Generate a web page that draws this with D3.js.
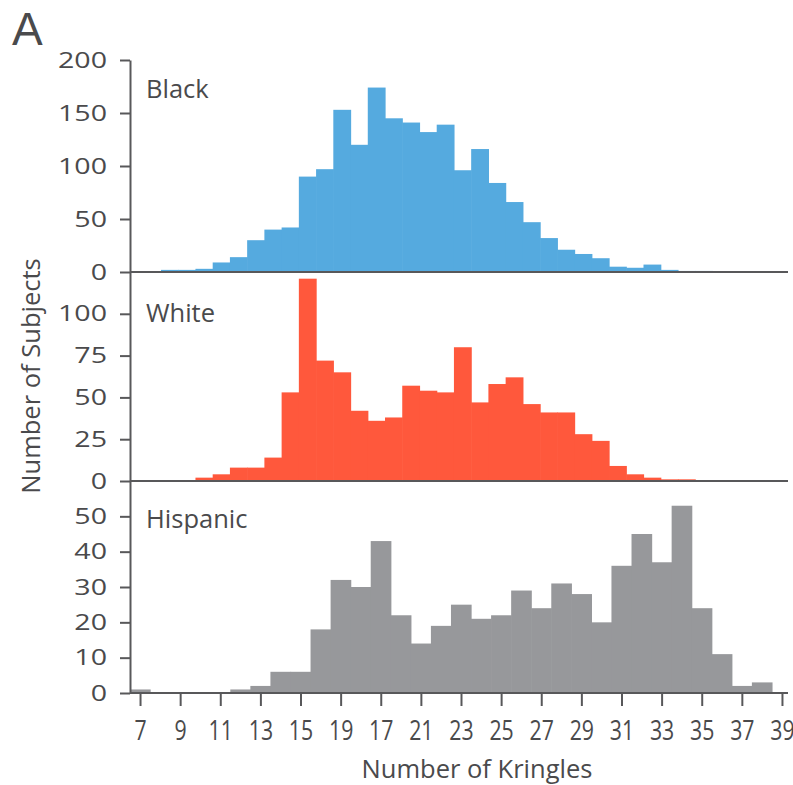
<!DOCTYPE html>
<html>
<head>
<meta charset="utf-8">
<script src="https://cdn.jsdelivr.net/npm/d3@7"></script>
<style>
  html, body { margin: 0; padding: 0; background: #ffffff; }
  svg { display: block; }
  text { font-family: "Open Sans", "Noto Sans", sans-serif; fill: #4a4a4c; }
</style>
</head>
<body>
<svg id="chart" width="793" height="785"></svg>
<script>
// ---------------- data ----------------
const panelNames = ["Black", "White", "Hispanic"];

// Black and White histograms share the same bin grid (left edge, width in kringles)
const bwBinStart = 8.045;
const bwBinWidth = 0.859;
const blackCounts = [2, 2, 3, 9, 14, 30, 40, 42, 90, 97, 153, 120, 174, 145, 141, 132,
                     139, 96, 116, 84, 66, 47, 32, 21, 17, 13, 5, 4, 7, 2, 1, 1];
const whiteCounts = [0, 0, 2, 4, 8, 8, 14, 53, 121, 72, 65, 42, 36, 38, 57, 54,
                     53, 80, 47, 58, 62, 46, 41, 41, 28, 24, 9, 4, 2, 1, 1, 0];

// Hispanic histogram: one bin per kringle count
const hispanicKringles = [7, 8, 9, 10, 11, 12, 13, 14, 15, 16, 17, 18, 19, 20, 21, 22,
                          23, 24, 25, 26, 27, 28, 29, 30, 31, 32, 33, 34, 35, 36, 37, 38];
const hispanicCounts = [1, 0, 0, 0, 0, 1, 2, 6, 6, 18, 32, 30, 43, 22, 14, 19,
                        25, 21, 22, 29, 24, 31, 28, 20, 36, 45, 37, 53, 24, 11, 2, 3];

const xTickValues = [7, 9, 11, 13, 15, 17, 19, 21, 23, 25, 27, 29, 31, 33, 35, 37, 39];
const xTickLabels = ["7", "9", "11", "13", "15", "19", "17", "21", "23", "25", "27",
                     "29", "31", "33", "35", "37", "39"];

const blackYTicks = [0, 50, 100, 150, 200];
const whiteYTicks = [0, 25, 50, 75, 100];
const hispanicYTicks = [0, 10, 20, 30, 40, 50];

const blackYMax = 200, whiteYMax = 125, hispanicYMax = 60;

// ---------------- layout ----------------
const svg = d3.select("#chart");
const axisColor = "#58585a";
const left = 130, right = 792;
const x = d3.scaleLinear().domain([6.5, 39.5]).range([left, right]);

const panels = [
  { name: panelNames[0], color: "#55aadf", ticks: blackYTicks,
    y: d3.scaleLinear().domain([0, blackYMax]).range([272, 60]), labelY: 98 },
  { name: panelNames[1], color: "#ff583c", ticks: whiteYTicks,
    y: d3.scaleLinear().domain([0, whiteYMax]).range([481, 272]), labelY: 322 },
  { name: panelNames[2], color: "#97989b", ticks: hispanicYTicks,
    y: d3.scaleLinear().domain([0, hispanicYMax]).range([693, 481]), labelY: 528 }
];

const bwBins = (counts) => counts.map((c, i) => ({
  x0: bwBinStart + i * bwBinWidth, x1: bwBinStart + (i + 1) * bwBinWidth, c
}));
panels[0].bins = bwBins(blackCounts);
panels[1].bins = bwBins(whiteCounts);
panels[2].bins = hispanicKringles.map((k, i) => ({ x0: k - 0.5, x1: k + 0.5, c: hispanicCounts[i] }));

// bars
panels.forEach(p => {
  svg.append("g").selectAll("rect")
    .data(p.bins.filter(b => b.c > 0))
    .join("rect")
    .attr("x", d => x(d.x0))
    .attr("width", d => x(d.x1) - x(d.x0) + 0.6)
    .attr("y", d => p.y(d.c))
    .attr("height", d => p.y(0) - p.y(d.c))
    .attr("fill", p.color);
});

// y axes
panels.forEach(p => {
  const g = svg.append("g")
    .attr("transform", `translate(${left},0)`)
    .call(d3.axisLeft(p.y).tickValues(p.ticks).tickSizeInner(10).tickSizeOuter(0));
  g.select(".domain").attr("stroke", axisColor).attr("stroke-width", 2);
  g.selectAll(".tick line").attr("stroke", axisColor).attr("stroke-width", 2);
  g.selectAll(".tick text")
    .attr("x", 0)
    .attr("transform", "translate(-23,0) scale(1.3,1)")
    .style("font-size", "22px")
    .style("font-family", "'Open Sans', sans-serif")
    .attr("fill", "#4a4a4c");
  // horizontal base line of each panel
  svg.append("line")
    .attr("x1", left).attr("x2", 788)
    .attr("y1", p.y(0)).attr("y2", p.y(0))
    .attr("stroke", axisColor).attr("stroke-width", 2.2);
  // panel label
  svg.append("text")
    .attr("x", 146).attr("y", p.labelY)
    .style("font-size", "25.5px")
    .text(p.name);
});

// x axis
const xg = svg.append("g")
  .attr("transform", `translate(0,${panels[2].y(0)})`)
  .call(d3.axisBottom(x).tickValues(xTickValues)
        .tickFormat((d, i) => xTickLabels[i]).tickSizeInner(13).tickSizeOuter(0));
xg.select(".domain").remove();
xg.selectAll(".tick line").attr("stroke", axisColor).attr("stroke-width", 2);
xg.selectAll(".tick text")
  .attr("y", 0).attr("dy", null)
  .attr("transform", "translate(0,47) scale(0.76,1)")
  .style("font-size", "28px")
  .style("font-family", "'Open Sans', sans-serif")
  .attr("fill", "#4a4a4c");

// titles
svg.append("text")
  .attr("x", 477).attr("y", 778)
  .attr("text-anchor", "middle")
  .style("font-size", "25.5px")
  .text("Number of Kringles");

svg.append("text")
  .attr("transform", "translate(40,376) rotate(-90)")
  .attr("text-anchor", "middle")
  .style("font-size", "25.5px")
  .text("Number of Subjects");

svg.append("text")
  .attr("x", 12).attr("y", 45)
  .style("font-family", "'Liberation Sans', Arial, sans-serif")
  .style("font-size", "46px")
  .attr("fill", "#404042")
  .text("A");
</script>
</body>
</html>
